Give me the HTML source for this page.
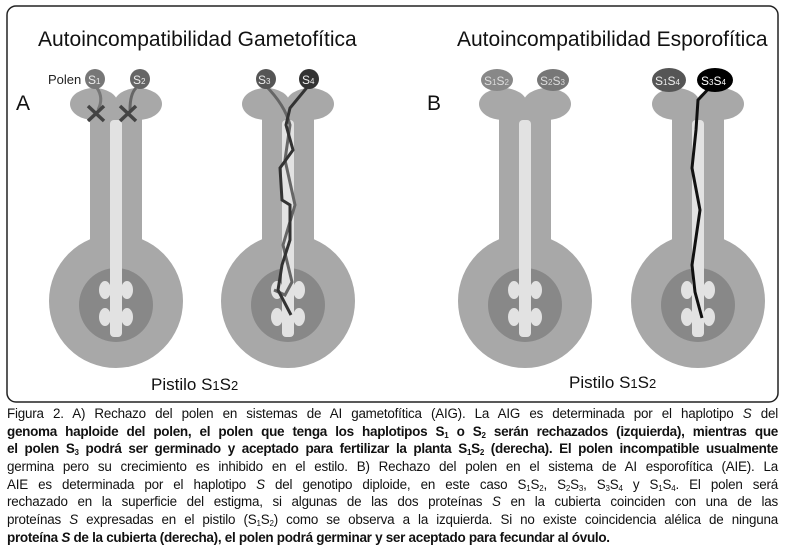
<!DOCTYPE html>
<html><head><meta charset="utf-8"><style>
body{margin:0;width:786px;height:550px;background:#fff;overflow:hidden;font-family:"Liberation Sans","DejaVu Sans",sans-serif}
#cap{position:absolute;left:7px;top:405px;width:771px;font-size:13.4px;color:#111}
#cap div{height:17.7px;line-height:17.7px;white-space:nowrap;text-align:justify;text-align-last:justify;letter-spacing:-0.2px}
#cap .b{font-weight:bold;font-size:13.5px;letter-spacing:-0.3px}
sub{font-size:8px;vertical-align:-2px;line-height:0}
</style></head><body>
<svg width="786" height="405" style="position:absolute;left:0;top:0" font-family="Liberation Sans, sans-serif">
<rect x="7" y="6" width="771" height="396" rx="9" fill="#fff" stroke="#222" stroke-width="1.5"/>
<defs>
<g id="pist">
<ellipse cx="-22" cy="104" rx="24" ry="16" fill="#a8a8a8"/>
<ellipse cx="22" cy="104" rx="24" ry="16" fill="#a8a8a8"/>
<rect x="-26" y="104" width="52" height="150" fill="#a8a8a8"/>
<circle cx="0" cy="301" r="67" fill="#a8a8a8"/>
<circle cx="0" cy="305" r="37" fill="#888"/>
<rect x="-6" y="120" width="12" height="217" rx="4" fill="#e2e2e2"/>
<ellipse cx="-11" cy="290" rx="6" ry="9" fill="#e2e2e2"/>
<ellipse cx="11" cy="290" rx="6" ry="9" fill="#e2e2e2"/>
<ellipse cx="-11" cy="317" rx="6" ry="9" fill="#e2e2e2"/>
<ellipse cx="11" cy="317" rx="6" ry="9" fill="#e2e2e2"/>
</g>
</defs>
<use href="#pist" x="116"/><use href="#pist" x="288"/><use href="#pist" x="525"/><use href="#pist" x="698"/>
<text x="38" y="46" font-size="21" fill="#111">Autoincompatibilidad Gametofítica</text>
<text x="457" y="46" font-size="21" fill="#111">Autoincompatibilidad Esporofítica</text>
<text x="16" y="110" font-size="21" fill="#111">A</text>
<text x="427" y="110" font-size="21" fill="#111">B</text>
<text x="151" y="390" font-size="17" fill="#111">Pistilo S<tspan font-size="13">1</tspan>S<tspan font-size="13">2</tspan></text>
<text x="569" y="388" font-size="17" fill="#111">Pistilo S<tspan font-size="13">1</tspan>S<tspan font-size="13">2</tspan></text>
<text x="48" y="84" font-size="13" fill="#222">Polen</text>
<path d="M97 88 Q104 98 98 110" stroke="#777" stroke-width="3" fill="none"/>
<path d="M136 88 Q130 94 130 110" stroke="#666" stroke-width="3" fill="none"/>
<circle cx="95" cy="79" r="10" fill="#777"/><circle cx="140" cy="79" r="10" fill="#666"/>
<text x="88" y="84" font-size="12" fill="#eee">S<tspan font-size="8">1</tspan></text>
<text x="133" y="84" font-size="12" fill="#eee">S<tspan font-size="8">2</tspan></text>
<path d="M88 106l16 15M104 106l-16 15M120 106l16 15M136 106l-16 15" stroke="#444" stroke-width="3.5"/>
<path d="M265 85 Q285 105 290 125 L285 160 L295 205 L283 245 L292 282 L285 295 L274 290" stroke="#666" stroke-width="3" fill="none"/>
<path d="M309 85 L290 108 L286 125 L293 150 L280 168 L282 200 L290 205 L290 240 L282 265 L278 290 L291 315" stroke="#333" stroke-width="3" fill="none"/>
<circle cx="266" cy="79" r="10" fill="#555"/><circle cx="309" cy="79" r="10" fill="#333"/>
<text x="258" y="84" font-size="12" fill="#eee">S<tspan font-size="8">3</tspan></text>
<text x="302" y="84" font-size="12" fill="#eee">S<tspan font-size="8">4</tspan></text>
<ellipse cx="497" cy="80" rx="16" ry="11" fill="#888"/><ellipse cx="553" cy="80" rx="16" ry="11" fill="#777"/>
<text x="484" y="85" font-size="12" fill="#ddd">S<tspan font-size="8">1</tspan>S<tspan font-size="8">2</tspan></text>
<text x="540" y="85" font-size="12" fill="#ddd">S<tspan font-size="8">2</tspan>S<tspan font-size="8">3</tspan></text>
<path d="M712 85 L698 100 L696 130 L692 168 L700 210 L692 265 L695 292 L702 318" stroke="#111" stroke-width="3" fill="none"/>
<ellipse cx="669" cy="80" rx="17" ry="12" fill="#555"/><ellipse cx="715" cy="80" rx="18" ry="12" fill="#000"/>
<text x="655" y="85" font-size="12" fill="#eee">S<tspan font-size="8">1</tspan>S<tspan font-size="8">4</tspan></text>
<text x="701" y="85" font-size="12" fill="#fff">S<tspan font-size="8">3</tspan>S<tspan font-size="8">4</tspan></text>
</svg>
<div id="cap">
<div>Figura 2. A) Rechazo del polen en sistemas de AI gametofítica (AIG). La AIG es determinada por el haplotipo <i>S</i> del</div>
<div class="b">genoma haploide del polen, el polen que tenga los haplotipos S<sub>1</sub> o S<sub>2</sub> serán rechazados (izquierda), mientras que</div>
<div class="b">el polen S<sub>3</sub> podrá ser germinado y aceptado para fertilizar la planta S<sub>1</sub>S<sub>2</sub> (derecha). El polen incompatible usualmente</div>
<div>germina pero su crecimiento es inhibido en el estilo. B) Rechazo del polen en el sistema de AI esporofítica (AIE). La</div>
<div>AIE es determinada por el haplotipo <i>S</i> del genotipo diploide, en este caso S<sub>1</sub>S<sub>2</sub>, S<sub>2</sub>S<sub>3</sub>, S<sub>3</sub>S<sub>4</sub> y S<sub>1</sub>S<sub>4</sub>. El polen será</div>
<div>rechazado en la superficie del estigma, si algunas de las dos proteínas <i>S</i> en la cubierta coinciden con una de las</div>
<div>proteínas <i>S</i> expresadas en el pistilo (S<sub>1</sub>S<sub>2</sub>) como se observa a la izquierda. Si no existe coincidencia alélica de ninguna</div>
<div class="b" style="text-align-last:left">proteína <i>S</i> de la cubierta (derecha), el polen podrá germinar y ser aceptado para fecundar al óvulo.</div>
</div>
</body></html>
